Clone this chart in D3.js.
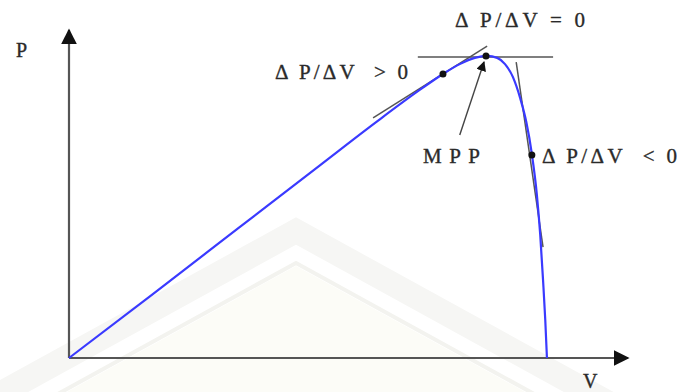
<!DOCTYPE html>
<html>
<head>
<meta charset="utf-8">
<script src="https://cdn.jsdelivr.net/npm/d3@7"></script>
<style>
  body { margin: 0; background: #fff; }
  text { font-family: "Liberation Serif", "DejaVu Serif", serif; fill: #2a2a2a; stroke: #2a2a2a; stroke-width: 0.35px; white-space: pre; }
</style>
</head>
<body>
<div id="main"></div>
<script>
/* Define Size */
const width = 678, height = 392;

/* Define Data (V and P in arbitrary units, 0..100) */
const voltage = [0, 15, 30, 45, 55, 62.8, 66.9, 69.9, 72.6, 74.8, 76.6, 78.0, 79.4, 80.7, 81.8, 82.8, 83.7, 84.3, 84.8, 85.2, 85.5];
const power   = [0, 19.5, 39.2, 58.9, 72.0, 81.8, 86.6, 89.6, 91.5, 92.1, 91.5, 89.6, 85.7, 79.3, 72.0, 62.2, 49.7, 37.5, 23.8, 11.6, 0];

// points on the curve: dP/dV > 0, MPP (dP/dV = 0), dP/dV < 0
const pointV = [66.9, 74.6, 82.8];
const pointP = [86.6, 92.1, 61.9];

// tangent lines at those points [v1, p1, v2, p2]
const tangents = [
  [54.4, 73.2, 74.8, 95.1],
  [62.4, 91.8, 86.6, 91.8],
  [80.0, 90.2, 84.8, 33.8]
];

const labels = ["\u0394 P/\u0394V  > 0", "\u0394 P/\u0394V = 0", "\u0394 P/\u0394V  < 0"];

/* Scales */
const x = d3.scaleLinear().domain([0, 100]).range([69, 628]);
const y = d3.scaleLinear().domain([0, 100]).range([358, 30]);

const svg = d3.select("#main").append("svg")
  .attr("width", width).attr("height", height);

/* faint watermark chevrons in the background */
const wm = svg.append("g");
const ax = 296, span = 420, k = 0.55;
const chevron = (top) => `M${ax - span},${top + span * k} L${ax},${top} L${ax + span},${top + span * k}`;
wm.append("path").attr("d", chevron(266) + " Z").attr("fill", "#fcfcf7");
wm.append("path").attr("d", chevron(231))
  .attr("fill", "none").attr("stroke", "#f6f6f4").attr("stroke-width", 24);
wm.append("path").attr("d", chevron(263))
  .attr("fill", "none").attr("stroke", "#f3f3ef").attr("stroke-width", 4);

/* Arrow markers */
const defs = svg.append("defs");
defs.append("marker")
  .attr("id", "axisHead").attr("viewBox", "0 0 10 10")
  .attr("refX", 9).attr("refY", 5)
  .attr("markerWidth", 16).attr("markerHeight", 16)
  .attr("markerUnits", "userSpaceOnUse")
  .attr("orient", "auto")
  .append("path").attr("d", "M0,0 L10,5 L0,10 Z").attr("fill", "#111");
defs.append("marker")
  .attr("id", "mppHead").attr("viewBox", "0 0 10 10")
  .attr("refX", 9).attr("refY", 5)
  .attr("markerWidth", 10).attr("markerHeight", 10)
  .attr("markerUnits", "userSpaceOnUse")
  .attr("orient", "auto")
  .append("path").attr("d", "M0,0 L10,5 L0,10 Z").attr("fill", "#111");

/* Axes */
svg.append("line")
  .attr("x1", x(0)).attr("y1", y(0))
  .attr("x2", x(0)).attr("y2", y(100))
  .attr("stroke", "#555").attr("stroke-width", 2.2)
  .attr("marker-end", "url(#axisHead)");
svg.append("line")
  .attr("x1", x(0)).attr("y1", y(0))
  .attr("x2", x(100)).attr("y2", y(0))
  .attr("stroke", "#555").attr("stroke-width", 2.2)
  .attr("marker-end", "url(#axisHead)");

svg.append("text").attr("x", 16).attr("y", 57).style("font-size", "20px").text("P");
svg.append("text").attr("x", 583).attr("y", 388).style("font-size", "20px").text("V");

/* Tangent lines */
svg.selectAll(".tangent")
  .data(tangents)
  .enter().append("line")
  .attr("class", "tangent")
  .attr("x1", d => x(d[0])).attr("y1", d => y(d[1]))
  .attr("x2", d => x(d[2])).attr("y2", d => y(d[3]))
  .attr("stroke", "#555").attr("stroke-width", 1.5);

/* P-V curve */
const line = d3.line()
  .x(d => x(d[0])).y(d => y(d[1]))
  .curve(d3.curveMonotoneX);

svg.append("path")
  .datum(d3.zip(voltage, power))
  .attr("d", line)
  .attr("fill", "none")
  .attr("stroke", "#3a3aff")
  .attr("stroke-width", 2.2);

/* Points */
svg.selectAll(".pt")
  .data(d3.zip(pointV, pointP))
  .enter().append("circle")
  .attr("class", "pt")
  .attr("cx", d => x(d[0])).attr("cy", d => y(d[1]))
  .attr("r", 3.5).attr("fill", "#111");

/* MPP arrow */
svg.append("line")
  .attr("x1", x(69.9)).attr("y1", y(68.0))
  .attr("x2", x(pointV[1]) - 2).attr("y2", y(pointP[1]) + 6)
  .attr("stroke", "#444").attr("stroke-width", 1.4)
  .attr("marker-end", "url(#mppHead)");

svg.append("text")
  .attr("x", 423).attr("y", 163)
  .attr("textLength", 57).attr("lengthAdjust", "spacing")
  .style("font-size", "21px").text("MPP");

/* Slope labels */
const labelPos = [[275, 79, 133], [455, 27, 130], [542, 163, 135]];
svg.selectAll(".lbl")
  .data(labels)
  .enter().append("text")
  .attr("class", "lbl")
  .attr("x", (d, i) => labelPos[i][0])
  .attr("y", (d, i) => labelPos[i][1])
  .attr("textLength", (d, i) => labelPos[i][2])
  .attr("lengthAdjust", "spacing")
  .style("font-size", "21px")
  .text(d => d);
</script>
</body>
</html>
